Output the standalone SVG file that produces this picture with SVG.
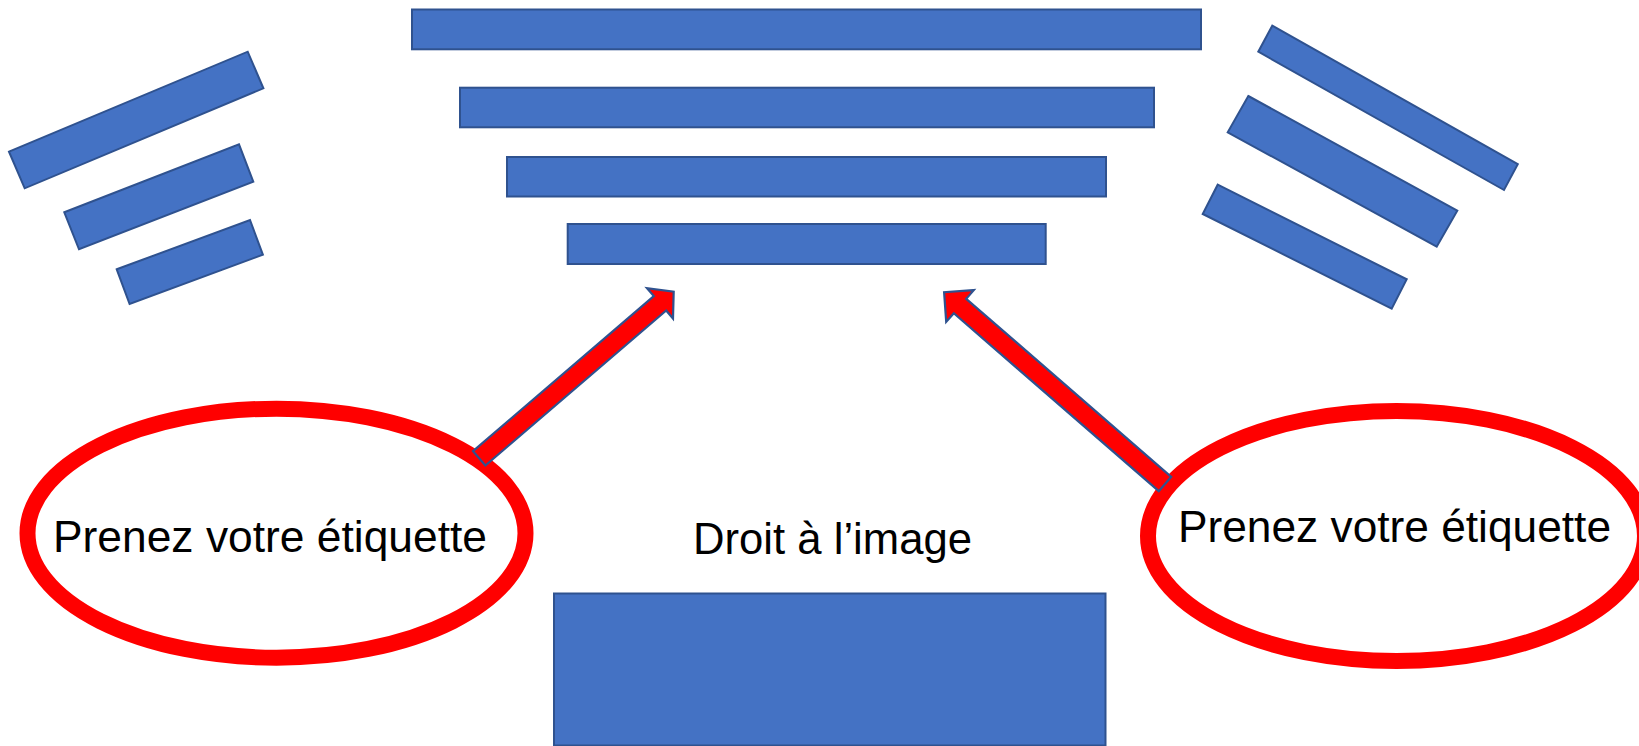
<svg xmlns="http://www.w3.org/2000/svg" width="1639" height="746" viewBox="0 0 1639 746">
  <style>
    .bar { fill: #4472C4; stroke: #2F528F; stroke-width: 2; }
    .oval { fill: #FFFFFF; stroke: #FF0000; stroke-width: 16; }
    .arrow { fill: #FF0000; stroke: #2F528F; stroke-width: 2.2; stroke-linejoin: miter; }
    .lbl { font-family: "Liberation Sans", Arial, sans-serif; font-size: 44px; fill: #000000; }
  </style>
  <rect width="1639" height="746" fill="#FFFFFF"/>

  <g id="bars-left">
    <polygon class="bar" points="9,151.7 247.7,51.7 263.4,88.3 24.7,188.3"/>
    <polygon class="bar" points="64.3,212.3 239,144.3 253.3,181.7 79,249.3"/>
    <polygon class="bar" points="116.7,269.3 250,220 262.9,254.7 129.6,304"/>
  </g>

  <g id="bars-center">
    <rect class="bar" x="412" y="9.5" width="789" height="39.8"/>
    <rect class="bar" x="460" y="87.7" width="694" height="39.6"/>
    <rect class="bar" x="507" y="157" width="599" height="39.5"/>
    <rect class="bar" x="567.7" y="224" width="478" height="40"/>
  </g>

  <g id="bars-right">
    <polygon class="bar" points="1272.3,25.7 1517.8,164.1 1504,190 1258.3,51.7"/>
    <polygon class="bar" points="1248.3,96 1457.3,210.7 1436.7,246.7 1227.7,132.3"/>
    <polygon class="bar" points="1217.7,184.7 1406.7,279.3 1391.7,308.6 1202.7,214"/>
  </g>

  <g id="oval-left">
    <ellipse class="oval" cx="276.5" cy="533.2" rx="249" ry="124.5"/>
    <text class="lbl" x="53" y="552.3" textLength="434" lengthAdjust="spacingAndGlyphs">Prenez votre étiquette</text>
  </g>

  <g id="oval-right">
    <ellipse class="oval" cx="1396.5" cy="536" rx="248.5" ry="125"/>
    <text class="lbl" x="1178" y="541.7" textLength="433" lengthAdjust="spacingAndGlyphs">Prenez votre étiquette</text>
  </g>

  <g id="image-box">
    <text class="lbl" x="693" y="554" textLength="279" lengthAdjust="spacingAndGlyphs">Droit à l’image</text>
    <rect class="bar" x="554" y="593.5" width="551.5" height="152"/>
  </g>

  <g id="connectors">
    <polygon class="arrow" points="485.4,465.5 666.2,310.5 673,318.5 673.7,291.6 647,288.1 653.8,296.1 473,451.1"/>
    <polygon class="arrow" points="1171.2,476.8 966.2,298.8 973.8,290.1 944.1,292.2 946.2,321.9 953.8,313.2 1158.8,491.2"/>
  </g>
</svg>
